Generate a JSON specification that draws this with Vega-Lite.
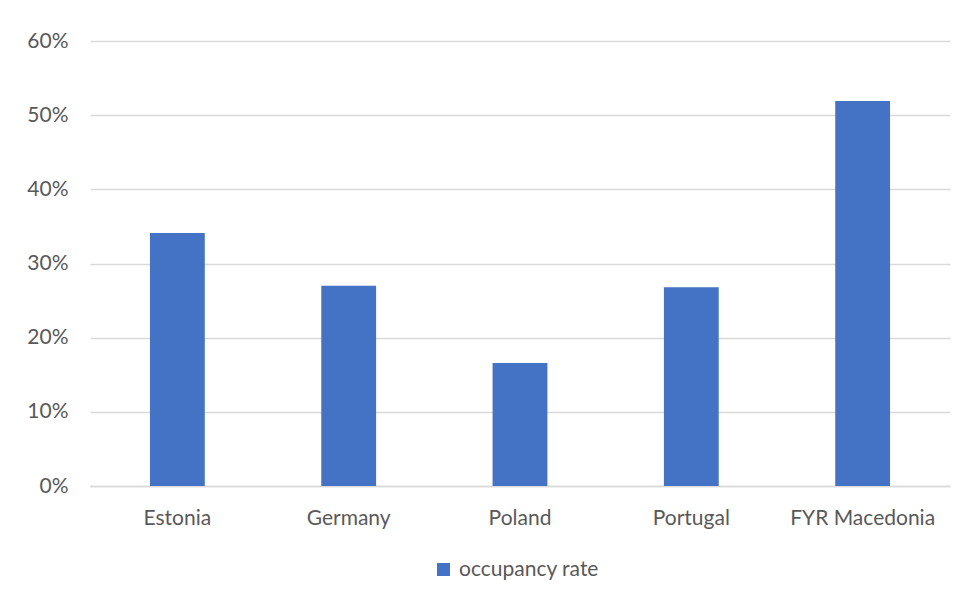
{
  "$schema": "https://vega.github.io/schema/vega-lite/v6.json",
  "width": 860,
  "height": 445,
  "autosize": {"type": "none"},
  "padding": {"left": 90, "top": 41, "right": 18, "bottom": 115},
  "background": "white",
  "data": {
    "values": [
      {"country": "Estonia", "rate": 0.341, "series": "occupancy rate"},
      {"country": "Germany", "rate": 0.270, "series": "occupancy rate"},
      {"country": "Poland", "rate": 0.166, "series": "occupancy rate"},
      {"country": "Portugal", "rate": 0.268, "series": "occupancy rate"},
      {"country": "FYR Macedonia", "rate": 0.519, "series": "occupancy rate"}
    ]
  },
  "mark": {"type": "bar", "color": "#4472C4"},
  "encoding": {
    "x": {
      "field": "country",
      "type": "nominal",
      "sort": null,
      "title": null,
      "scale": {"paddingInner": 0.68, "paddingOuter": 0.35},
      "axis": {
        "labelAngle": 0,
        "labelFont": "Lato",
        "labelFontSize": 21,
        "labelColor": "#595959",
        "labelPadding": 21,
        "ticks": false,
        "domainColor": "#d9d9d9",
        "domainWidth": 1.5
      }
    },
    "y": {
      "field": "rate",
      "type": "quantitative",
      "title": null,
      "scale": {"domain": [0, 0.6]},
      "axis": {
        "format": ".0%",
        "values": [0, 0.1, 0.2, 0.3, 0.4, 0.5, 0.6],
        "labelFont": "Lato",
        "labelFontSize": 21,
        "labelColor": "#595959",
        "labelPadding": 22,
        "ticks": false,
        "domain": false,
        "gridColor": "#d9d9d9",
        "gridWidth": 1.5
      }
    },
    "fill": {
      "field": "series",
      "type": "nominal",
      "scale": {"range": ["#4472C4"]},
      "legend": {
        "title": null,
        "orient": "none",
        "legendX": 343,
        "legendY": 518,
        "labelFont": "Lato",
        "labelFontSize": 21,
        "labelColor": "#595959",
        "labelOffset": 5,
        "symbolType": "square",
        "symbolSize": 170,
        "symbolStrokeWidth": 0
      }
    }
  },
  "config": {"view": {"stroke": null}}
}
